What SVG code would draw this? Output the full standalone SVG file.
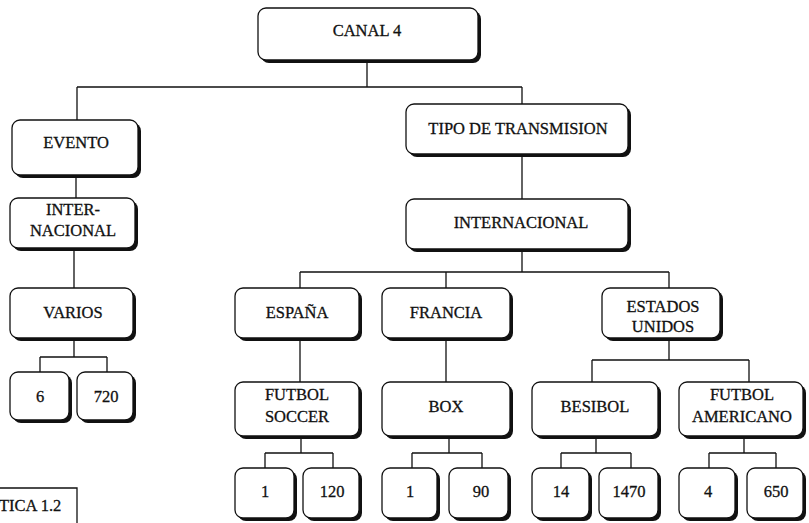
<svg xmlns="http://www.w3.org/2000/svg" width="809" height="523" viewBox="0 0 809 523">
<style>
.sh{fill:#111;}
.bx{fill:#fff;stroke:#111;stroke-width:1.3;}
text{font-family:"Liberation Serif","Times New Roman",serif;font-size:16.5px;fill:#111;stroke:#111;stroke-width:0.3;text-anchor:middle;}
.c{fill:none;stroke:#111;stroke-width:1.3;}
</style>
<rect width="809" height="523" fill="#fff"/>
<g id="connectors">
<path class="c" d="M367 60V87M77 87H522M77 87V120M522 87V104"/>
<path class="c" d="M76 175V198M74 248V288M74 338V357M40 357H107M40 357V372M107 357V372"/>
<path class="c" d="M522 154V199M522 249V272M300 272H669M300 272V288M446 272V288M669 272V288"/>
<path class="c" d="M300 338V382M446 338V382M669 338V360M592 360H749M592 360V382M749 360V382"/>
<path class="c" d="M301 436V453M265 453H333M265 453V468M333 453V468"/>
<path class="c" d="M449 436V453M412 453H482M412 453V468M482 453V468"/>
<path class="c" d="M596 436V453M561 453H631M561 453V468M631 453V468"/>
<path class="c" d="M744 436V453M709 453H776M709 453V468M776 453V468"/>
<path class="c" d="M0 488H77V523"/>
</g>
<g id="canal4"><rect class="sh" x="261" y="11" width="220" height="52" rx="8"/><rect class="bx" x="258" y="8" width="220" height="52" rx="8"/><text x="367" y="36" font-size="17.5">CANAL 4</text></g>
<g id="evento"><rect class="sh" x="15" y="123" width="126" height="55" rx="8"/><rect class="bx" x="12" y="120" width="126" height="55" rx="8"/><text x="76" y="148">EVENTO</text></g>
<g id="inter-nacional"><rect class="sh" x="13" y="201" width="125" height="50" rx="8"/><rect class="bx" x="10" y="198" width="125" height="50" rx="8"/><text x="73" y="215">INTER-</text><text x="73" y="236">NACIONAL</text></g>
<g id="varios"><rect class="sh" x="13" y="291" width="123" height="50" rx="8"/><rect class="bx" x="10" y="288" width="123" height="50" rx="8"/><text x="73" y="318">VARIOS</text></g>
<g id="n6"><rect class="sh" x="13" y="375" width="59" height="48" rx="8"/><rect class="bx" x="10" y="372" width="59" height="48" rx="8"/><text x="40" y="402">6</text></g>
<g id="n720"><rect class="sh" x="80" y="375" width="56" height="48" rx="8"/><rect class="bx" x="77" y="372" width="56" height="48" rx="8"/><text x="106" y="402">720</text></g>
<g id="tipo"><rect class="sh" x="409" y="107" width="222" height="50" rx="8"/><rect class="bx" x="406" y="104" width="222" height="50" rx="8"/><text x="518" y="134" font-size="17">TIPO DE TRANSMISION</text></g>
<g id="internacional"><rect class="sh" x="409" y="202" width="222" height="50" rx="8"/><rect class="bx" x="406" y="199" width="222" height="50" rx="8"/><text x="521" y="228">INTERNACIONAL</text></g>
<g id="espana"><rect class="sh" x="238" y="291" width="124" height="50" rx="8"/><rect class="bx" x="235" y="288" width="124" height="50" rx="8"/><text x="297" y="318">ESPAÑA</text></g>
<g id="francia"><rect class="sh" x="385" y="291" width="128" height="50" rx="8"/><rect class="bx" x="382" y="288" width="128" height="50" rx="8"/><text x="446" y="318">FRANCIA</text></g>
<g id="estados"><rect class="sh" x="605" y="291" width="118" height="50" rx="8"/><rect class="bx" x="602" y="288" width="118" height="50" rx="8"/><text x="663" y="312">ESTADOS</text><text x="663" y="332">UNIDOS</text></g>
<g id="futbolsoccer"><rect class="sh" x="238" y="385" width="124" height="54" rx="8"/><rect class="bx" x="235" y="382" width="124" height="54" rx="8"/><text x="297" y="400">FUTBOL</text><text x="297" y="422">SOCCER</text></g>
<g id="box"><rect class="sh" x="385" y="385" width="128" height="54" rx="8"/><rect class="bx" x="382" y="382" width="128" height="54" rx="8"/><text x="446" y="412">BOX</text></g>
<g id="besibol"><rect class="sh" x="535" y="385" width="126" height="54" rx="8"/><rect class="bx" x="532" y="382" width="126" height="54" rx="8"/><text x="595" y="412">BESIBOL</text></g>
<g id="futbolamericano"><rect class="sh" x="682" y="385" width="124" height="54" rx="8"/><rect class="bx" x="679" y="382" width="124" height="54" rx="8"/><text x="742" y="400">FUTBOL</text><text x="742" y="422">AMERICANO</text></g>
<g id="b1a"><rect class="sh" x="238" y="471" width="59" height="50" rx="8"/><rect class="bx" x="235" y="468" width="59" height="50" rx="8"/><text x="265" y="497">1</text></g>
<g id="b120"><rect class="sh" x="306" y="471" width="56" height="50" rx="8"/><rect class="bx" x="303" y="468" width="56" height="50" rx="8"/><text x="332" y="497">120</text></g>
<g id="b1b"><rect class="sh" x="385" y="471" width="55" height="50" rx="8"/><rect class="bx" x="382" y="468" width="55" height="50" rx="8"/><text x="410" y="497">1</text></g>
<g id="b90"><rect class="sh" x="452" y="471" width="59" height="50" rx="8"/><rect class="bx" x="449" y="468" width="59" height="50" rx="8"/><text x="481" y="497">90</text></g>
<g id="b14"><rect class="sh" x="535" y="471" width="57" height="50" rx="8"/><rect class="bx" x="532" y="468" width="57" height="50" rx="8"/><text x="561" y="497">14</text></g>
<g id="b1470"><rect class="sh" x="602" y="471" width="59" height="50" rx="8"/><rect class="bx" x="599" y="468" width="59" height="50" rx="8"/><text x="629" y="497">1470</text></g>
<g id="b4"><rect class="sh" x="682" y="471" width="56" height="50" rx="8"/><rect class="bx" x="679" y="468" width="56" height="50" rx="8"/><text x="708" y="497">4</text></g>
<g id="b650"><rect class="sh" x="750" y="471" width="56" height="50" rx="8"/><rect class="bx" x="747" y="468" width="56" height="50" rx="8"/><text x="776" y="497">650</text></g>
<g id="caption"><text x="-1" y="511" font-size="15.5" style="text-anchor:start">TICA 1.2</text></g>
</svg>
